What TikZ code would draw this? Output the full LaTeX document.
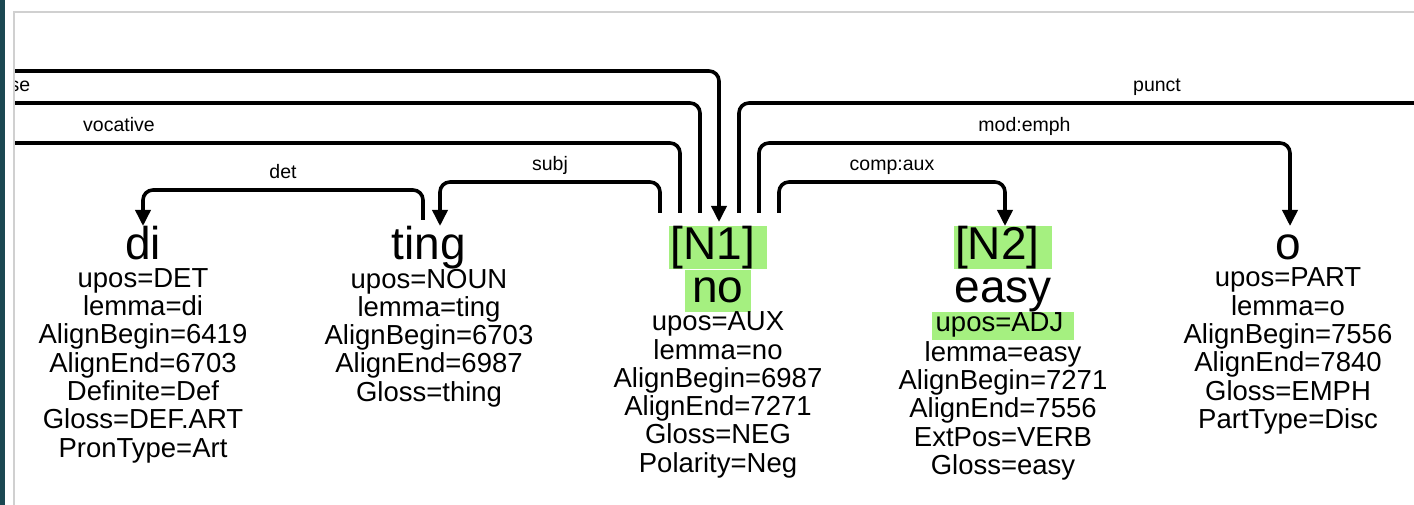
\documentclass[tikz,border=0pt]{standalone}
\usepackage{fontspec}
\setmainfont{Liberation Sans}
\usepackage{tikz}
\usetikzlibrary{arrows.meta,positioning}
\definecolor{hlgreen}{RGB}{165,240,128}
\definecolor{sidebar}{RGB}{27,72,82}
\definecolor{framegray}{RGB}{208,208,208}
\newcommand{\wl}[1]{\rule[-9pt]{0pt}{42pt}#1}
\newcommand{\hl}[4]{{\setlength{\fboxsep}{0pt}\colorbox{hlgreen}{\rule[-9pt]{0pt}{#1}\hspace{#2}#4\hspace{#3}}}}

\begin{document}
\begin{tikzpicture}[x=1pt,y=-1pt,
  word/.style={inner sep=0pt,outer sep=0pt,anchor=north,align=center,font=\fontsize{46}{42}\selectfont},
  feats/.style={inner sep=0pt,outer sep=0pt,align=center,font=\fontsize{27.5}{28.3}\selectfont},
  dep/.style={line width=3.6pt,rounded corners=10pt},
  lbl/.style={anchor=base,yshift=11pt,font=\fontsize{19.5}{22}\selectfont},
  >={Triangle[width=15pt,length=16pt]}]
  \useasboundingbox (0,0) rectangle (1414,505);
  \fill[sidebar] (0,0) rectangle (4.7,505);
  \draw[framegray,line width=2.2pt] (13.8,505) -- (13.8,12.2) -- (1414,12.2);

  \node[word] (di) at (143,226) {\wl{di}};
  \node[feats,below=0pt of di] (di-f) {upos=DET\\lemma=di\\AlignBegin=6419\\AlignEnd=6703\\Definite=Def\\Gloss=DEF.ART\\PronType=Art};
  \node[word] (ting) at (429,226) {\wl{ting}};
  \node[feats,below=0pt of ting] (ting-f) {upos=NOUN\\lemma=ting\\AlignBegin=6703\\AlignEnd=6987\\Gloss=thing};
  \node[word] (no) at (718,226) {\hl{42pt}{1.5pt}{12pt}{[N1]}\\\hl{42pt}{7pt}{7pt}{no}};
  \node[feats,below=0pt of no] (no-f) {upos=AUX\\lemma=no\\AlignBegin=6987\\AlignEnd=7271\\Gloss=NEG\\Polarity=Neg};
  \node[word] (easy) at (1003,226) {\hl{42pt}{1.5pt}{13pt}{[N2]}\\\wl{easy}};
  \node[feats,below=0pt of easy] (easy-f) {\hl{28pt}{4pt}{11pt}{upos=ADJ}\\lemma=easy\\AlignBegin=7271\\AlignEnd=7556\\ExtPos=VERB\\Gloss=easy};
  \node[word] (o) at (1288,226) {\wl{o}};
  \node[feats,below=0pt of o] (o-f) {upos=PART\\lemma=o\\AlignBegin=7556\\AlignEnd=7840\\Gloss=EMPH\\PartType=Disc};

  \coordinate (lft-top) at (-900,71);
  \coordinate (lft-se) at (-660,103);
  \coordinate (lft-voc) at (-442,143);
  \coordinate (rgt-punct) at (1575,103);

  \begin{scope}
    \clip (15,13.3) rectangle (1414,505);
    \draw[dep,->,shorten >=4pt] (lft-top) -| ([xshift=1pt]no.north);
    \draw[dep] ([xshift=-18pt,yshift=13pt]no.north) |- (lft-se) node[lbl,pos=.75] {se};
    \draw[dep] ([xshift=-38pt,yshift=13pt]no.north) |- (lft-voc) node[lbl,pos=.75] {vocative};
    \draw[dep,->] ([xshift=-58pt,yshift=13pt]no.north) |- ([xshift=11pt,yshift=44pt]ting.north) node[lbl,pos=.75] {subj} -- ([xshift=11pt]ting.north);
    \draw[dep,->] ([xshift=-6pt,yshift=6pt]ting.north) |- ([yshift=36pt]di.north) node[lbl,pos=.75] {det} -- (di.north);
    \draw[dep] ([xshift=21pt,yshift=13pt]no.north) |- (rgt-punct) node[lbl,pos=.75] {punct};
    \draw[dep,->] ([xshift=41pt,yshift=13pt]no.north) |- ([xshift=2pt,yshift=83pt]o.north) node[lbl,pos=.75] {mod:emph} -- ([xshift=2pt]o.north);
    \draw[dep,->] ([xshift=61pt,yshift=13pt]no.north) |- ([xshift=2pt,yshift=44pt]easy.north) node[lbl,pos=.75] {comp:aux} -- ([xshift=2pt]easy.north);
  \end{scope}
\end{tikzpicture}
\end{document}
